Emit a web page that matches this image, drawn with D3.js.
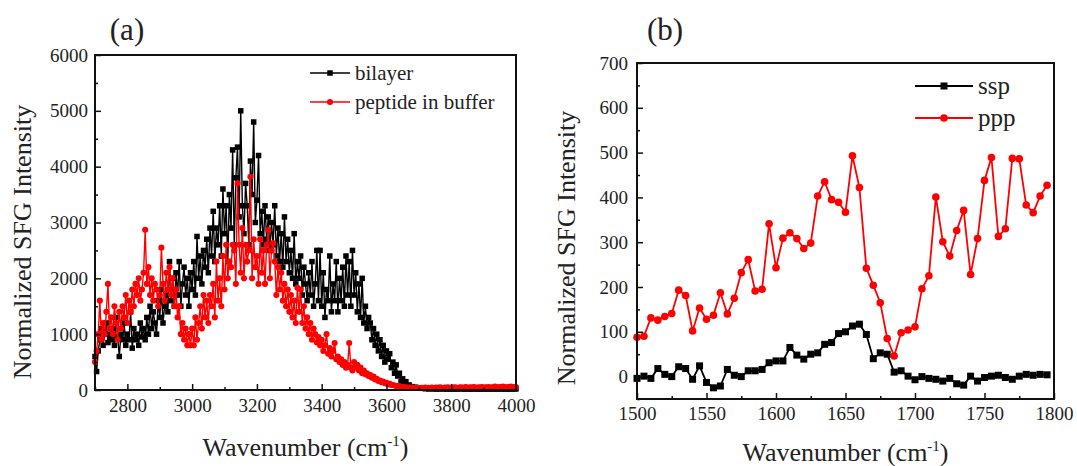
<!DOCTYPE html>
<html><head><meta charset="utf-8">
<script src="https://cdn.jsdelivr.net/npm/d3@7"></script>
<style>
body{margin:0;background:#fff}
svg{display:block}
text{font-family:"Liberation Serif","Times New Roman",serif;fill:#222}
</style>
</head><body>
<svg id="chart" width="1077" height="466" font-family="Liberation Serif"></svg>
<script>
// ---------- Panel (a) data ----------
const wavenumberA = d3.range(2700, 4001, 5);
const bilayer = [
 600,330,700,900,1100,800,1000,1200,850,1000,
 900,1100,800,1300,950,600,1000,900,1200,800,
 1000,900,1400,750,1100,900,1000,800,1200,950,
 1100,900,1300,1000,1500,1100,1400,1200,1000,1600,
 1300,1800,1200,1500,1700,1400,2300,1600,2000,1500,
 2100,1700,2300,1500,1900,2200,1700,2000,1500,2100,
 1800,2300,1700,2750,2000,2400,1900,2500,2200,2700,
 2100,2900,2400,3200,2300,2900,2600,3300,2400,3600,
 2800,3300,2300,3500,2900,4300,2600,3800,4350,3100,
 5000,3300,2800,3700,3300,2600,4100,3500,4800,3000,
 3400,4200,2800,3200,2600,3300,2700,3100,2500,3000,
 2600,3300,2400,2900,2300,2800,2200,3100,2300,2700,
 2100,2500,2000,2800,1900,2300,2000,2400,1700,2200,
 1900,1600,2100,1700,2300,1500,1900,2500,1600,2500,
 1500,2100,1300,1800,1600,2400,1400,1900,1600,2300,
 1400,2000,1600,2200,1500,2400,1700,2300,1500,2500,
 1700,2100,1400,1900,1300,2000,1200,1500,1100,1300,
 1200,900,1100,800,1000,700,900,600,800,500,
 700,550,650,400,500,300,450,250,300,150,
 200,100,150,80,90,50,60,40,50,40,
 40,
 40,30,35,25,30,20,25,30,20,25,
 20,25,20,30,20,25,20,20,25,20,
 20,25,20,20,30,20,25,20,20,25,
 20,20,25,20,25,20,20,25,20,20,
 25,20,20,25,20,20,25,20,20,25,
 20,25,20,20,25,20,20,25,20,20
];
const peptide = [
 500,700,1000,1600,900,1200,1000,1400,1900,1100,
 1300,1000,1500,1200,900,1400,1100,1500,1300,1700,
 1200,1600,1400,1800,1500,1900,1700,2000,1600,1800,
 2100,2870,1900,2200,1700,2000,1600,1900,1800,1500,
 1700,2550,1900,1600,2100,1800,2200,1700,2000,1500,
 1800,1300,1500,1000,1200,900,1100,800,1000,800,
 1100,800,1300,900,1200,1500,1100,1700,1300,1600,
 1200,1700,1500,1900,1300,2300,1600,2000,1500,2400,
 1800,2600,2000,2300,2200,2600,2500,1900,3700,2600,
 2100,2900,2000,2600,2300,2500,3820,2000,2700,2200,
 2400,1900,2700,2100,2500,1900,2600,2870,2000,2500,
 2630,2300,1700,2200,1800,2100,1600,1900,1500,1800,
 1400,1700,1300,1600,1200,1830,1400,1800,1200,1500,
 1100,1300,1000,1200,900,1100,1000,850,950,800,
 900,700,800,1000,650,750,600,700,840,550,
 600,500,550,450,500,400,450,840,400,350,
 500,400,450,350,400,300,350,280,300,250,
 270,220,240,190,200,160,170,140,150,120,
 130,100,110,90,90,80,70,70,60,60,
 55,50,50,45,45,40,45,40,40,40,
 35,
 35,40,30,45,35,40,30,45,35,40,
 45,35,50,40,35,45,40,50,35,45,
 40,50,45,35,45,50,40,45,55,40,
 45,50,40,55,45,40,50,45,55,40,
 50,45,55,40,50,45,60,45,50,55,
 45,60,50,45,55,50,60,45,55,50
];
const xTicksA = [2800,3000,3200,3400,3600,3800,4000];
const xMinorA = [2700,2900,3100,3300,3500,3700,3900];
const yTicksA = [0,1000,2000,3000,4000,5000,6000];
const yMinorA = [500,1500,2500,3500,4500,5500];

// ---------- Panel (b) data ----------
const wavenumberB = d3.range(1500, 1796, 5);
const ssp = [
 -4,1,-4,18,5,0,22,18,-6,24,
 -13,-25,-21,16,3,0,13,13,16,31,
 35,35,65,48,39,50,53,72,76,96,
 100,113,117,94,40,53,50,10,13,1,
 -7,0,-4,-6,-10,-4,-16,-19,1,-10,
 -2,1,3,-2,-6,1,5,3,5,4
];
const ppp = [
 88,90,131,126,134,141,193,181,102,153,
 128,137,187,140,175,232,261,191,195,341,
 243,309,321,308,286,298,403,435,395,389,
 367,493,422,242,204,165,85,46,98,104,
 111,196,225,401,301,269,326,371,228,308,
 438,489,313,330,487,486,383,366,403,427
];
const xTicksB = [1500,1550,1600,1650,1700,1750,1800];
const xMinorB = [1525,1575,1625,1675,1725,1775];
const yTicksB = [0,100,200,300,400,500,600,700];
const yMinorB = [-50,50,150,250,350,450,550,650];

const SERIF = "Liberation Serif";
const svg = d3.select("#chart");

function panel(o){
  const g = svg.append("g").attr("font-family", SERIF);
  const x = d3.scaleLinear().domain(o.xDomain).range([o.left, o.right]);
  const y = d3.scaleLinear().domain(o.yDomain).range([o.bottom, o.top]);

  o.series.forEach(s=>{
    const pts = s.x.map((v,i)=>[v, s.y[i]]);
    g.append("path").datum(pts)
      .attr("fill","none").attr("stroke",s.color).attr("stroke-width",o.lw)
      .attr("stroke-linejoin","round")
      .attr("d", d3.line().x(d=>x(d[0])).y(d=>y(d[1])));
    if(s.shape==="square"){
      g.selectAll(null).data(pts).enter().append("rect")
        .attr("x",d=>x(d[0])-o.ms/2).attr("y",d=>y(d[1])-o.ms/2)
        .attr("width",o.ms).attr("height",o.ms).attr("fill",s.color);
    } else {
      g.selectAll(null).data(pts).enter().append("circle")
        .attr("cx",d=>x(d[0])).attr("cy",d=>y(d[1])).attr("r",o.ms/2+0.3).attr("fill",s.color);
    }
  });

  const axes = [
    g.append("g").attr("transform",`translate(0,${o.bottom})`)
      .call(d3.axisBottom(x).tickValues(o.xTicks).tickSize(-6).tickPadding(o.xPad).tickFormat(d3.format("d"))),
    g.append("g").attr("transform",`translate(0,${o.bottom})`)
      .call(d3.axisBottom(x).tickValues(o.xMinor).tickSize(-3).tickFormat("")),
    g.append("g").attr("transform",`translate(${o.left},0)`)
      .call(d3.axisLeft(y).tickValues(o.yTicks).tickSize(-6).tickPadding(o.yPad).tickFormat(d3.format("d"))),
    g.append("g").attr("transform",`translate(${o.left},0)`)
      .call(d3.axisLeft(y).tickValues(o.yMinor).tickSize(-3).tickFormat(""))
  ];
  axes.forEach(a=>a.attr("font-family", SERIF).attr("font-size", 19));
  g.selectAll(".domain").remove();
  g.selectAll(".tick line").attr("stroke","#111").attr("stroke-width",1.5);
  g.selectAll(".tick text").attr("fill","#222").attr("font-family", SERIF);

  g.append("rect").attr("x",o.left).attr("y",o.top)
    .attr("width",o.right-o.left).attr("height",o.bottom-o.top)
    .attr("fill","none").attr("stroke","#111").attr("stroke-width",2);

  const xt = g.append("text").attr("x",(o.left+o.right)/2).attr("y",o.xTitleY)
    .attr("text-anchor","middle").style("font-size","26px");
  xt.append("tspan").text("Wavenumber (cm");
  xt.append("tspan").attr("dy","-10").style("font-size","15px").text("-1");
  xt.append("tspan").attr("dy","10").text(")");

  g.append("text").attr("transform",`translate(${o.yTitleX},${o.yTitleY}) rotate(-90)`)
    .attr("text-anchor","middle").style("font-size","26px").text("Normalized SFG Intensity");

  g.append("text").attr("x",o.labelX).attr("y",o.labelY).attr("text-anchor","middle")
    .style("font-size","31px").text(o.label);

  o.series.forEach((s,i)=>{
    const ly = o.legY + i*o.legGap;
    g.append("line").attr("x1",o.legX).attr("x2",o.legX+o.legLen)
      .attr("y1",ly).attr("y2",ly).attr("stroke",s.color).attr("stroke-width",o.lw);
    const cx = o.legX+o.legLen/2;
    if(s.shape==="square") g.append("rect").attr("x",cx-o.ms/2).attr("y",ly-o.ms/2).attr("width",o.ms).attr("height",o.ms).attr("fill",s.color);
    else g.append("circle").attr("cx",cx).attr("cy",ly).attr("r",o.ms/2+0.3).attr("fill",s.color);
    g.append("text").attr("x",o.legX+o.legLen+5).attr("y",ly).attr("dy","0.32em")
      .style("font-size",o.legFont).text(s.name);
  });
}

panel({
  left:95, right:516, top:55, bottom:390,
  xDomain:[2700,4000], yDomain:[0,6000],
  xTicks:xTicksA, xMinor:xMinorA, yTicks:yTicksA, yMinor:yMinorA,
  xPad:9, yPad:7, lw:1.4, ms:5.5,
  series:[
    {name:"bilayer", x:wavenumberA, y:bilayer, color:"#000", shape:"square"},
    {name:"peptide in buffer", x:wavenumberA, y:peptide, color:"#ff0000", shape:"circle"}
  ],
  xTitleY:456, yTitleX:31, yTitleY:242,
  label:"(a)", labelX:127, labelY:40,
  legX:310, legLen:40, legY:73, legGap:29, legFont:"21px"
});

panel({
  left:637, right:1054, top:63, bottom:399,
  xDomain:[1500,1800], yDomain:[-50,700],
  xTicks:xTicksB, xMinor:xMinorB, yTicks:yTicksB, yMinor:yMinorB,
  xPad:8, yPad:9, lw:1.8, ms:7,
  series:[
    {name:"ssp", x:wavenumberB, y:ssp, color:"#000", shape:"square"},
    {name:"ppp", x:wavenumberB, y:ppp, color:"#ff0000", shape:"circle"}
  ],
  xTitleY:461, yTitleX:575, yTitleY:248,
  label:"(b)", labelX:665, labelY:40,
  legX:915, legLen:58, legY:86, legGap:32, legFont:"25px"
});
</script>
</body></html>
